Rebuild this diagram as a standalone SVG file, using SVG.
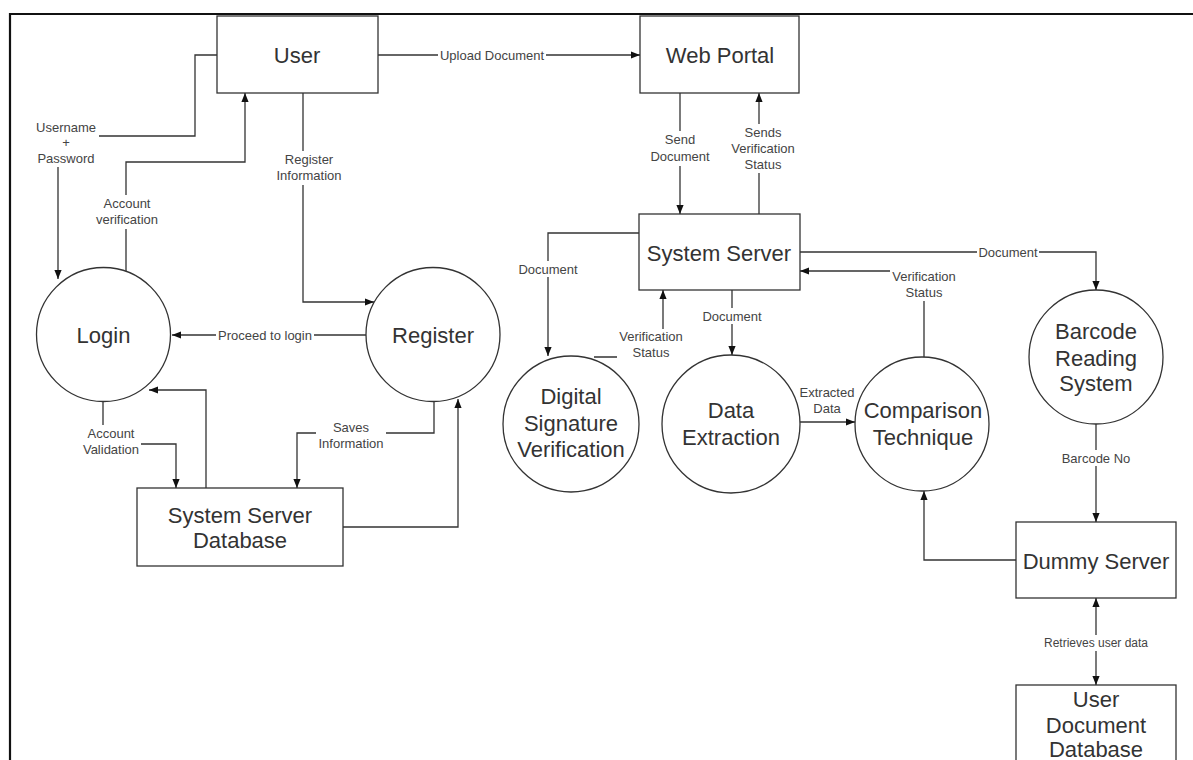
<svg xmlns="http://www.w3.org/2000/svg" width="1193" height="760" viewBox="0 0 1193 760">
<style>
.node{fill:#fff;stroke:#333;stroke-width:1.3}
.nt{font-family:"Liberation Sans",Arial,sans-serif;font-size:22px;fill:#333;text-anchor:middle}
.edge{fill:none;stroke:#333;stroke-width:1.3}
.lt{font-family:"Liberation Sans",Arial,sans-serif;font-size:13px;fill:#444;text-anchor:middle}
.lb{fill:#fff;stroke:none}
</style>
<defs>
<marker id="arr" viewBox="0 0 10 10" refX="10" refY="5" markerWidth="9" markerHeight="9" orient="auto-start-reverse" markerUnits="userSpaceOnUse">
<path d="M0,1 L10,5 L0,9 Z" fill="#111"/>
</marker>
</defs>
<rect width="1193" height="760" fill="#fff"/>
<path d="M10,760 V14 H1193" fill="none" stroke="#111" stroke-width="2.2"/>

<g id="user"><rect class="node" x="217" y="16" width="161" height="77"/><text class="nt" x="297" y="63">User</text></g>
<g id="webportal"><rect class="node" x="640" y="16" width="159" height="77"/><text class="nt" x="720" y="63">Web Portal</text></g>
<g id="login"><circle class="node" cx="103.5" cy="334.5" r="67"/><text class="nt" x="103.5" y="343">Login</text></g>
<g id="register"><circle class="node" cx="433" cy="334.5" r="67"/><text class="nt" x="433" y="343">Register</text></g>
<g id="ssdb"><rect class="node" x="137" y="488" width="206" height="78"/><text class="nt" x="240" y="523">System Server</text><text class="nt" x="240" y="548">Database</text></g>
<g id="systemserver"><rect class="node" x="639" y="214" width="161" height="76"/><text class="nt" x="719" y="261">System Server</text></g>
<g id="digsig"><circle class="node" cx="571" cy="424" r="68"/><text class="nt" x="571" y="404">Digital</text><text class="nt" x="571" y="431">Signature</text><text class="nt" x="571" y="457">Verification</text></g>
<g id="dataext"><circle class="node" cx="731" cy="424" r="69"/><text class="nt" x="731" y="418">Data</text><text class="nt" x="731" y="445">Extraction</text></g>
<g id="comparison"><circle class="node" cx="922" cy="424" r="67"/><text class="nt" x="923" y="418">Comparison</text><text class="nt" x="923" y="445">Technique</text></g>
<g id="barcode"><circle class="node" cx="1096" cy="357" r="67"/><text class="nt" x="1096" y="339">Barcode</text><text class="nt" x="1096" y="366">Reading</text><text class="nt" x="1096" y="391">System</text></g>
<g id="dummy"><rect class="node" x="1016" y="522" width="160" height="76"/><text class="nt" x="1096" y="569">Dummy Server</text></g>
<g id="userdocdb"><rect class="node" x="1016" y="685" width="160" height="90"/><text class="nt" x="1096" y="707">User</text><text class="nt" x="1096" y="733">Document</text><text class="nt" x="1096" y="757">Database</text></g>

<g id="connectors">
<g><path class="edge" d="M378,55 H640" marker-end="url(#arr)"/><rect class="lb" x="438" y="47" width="108" height="16"/><text class="lt" x="492" y="60">Upload Document</text></g>
<g><path class="edge" d="M217,55 H195 V136 H58 V279" marker-end="url(#arr)"/><rect class="lb" x="34" y="119" width="65" height="48"/><text class="lt" x="66" y="132">Username</text><text class="lt" x="66" y="147">+</text><text class="lt" x="66" y="163">Password</text></g>
<g><path class="edge" d="M126,271 V162 H245 V93" marker-end="url(#arr)"/><rect class="lb" x="94" y="195" width="66" height="34"/><text class="lt" x="127" y="208">Account</text><text class="lt" x="127" y="224">verification</text></g>
<g><path class="edge" d="M303,93 V302 H374" marker-end="url(#arr)"/><rect class="lb" x="275" y="151" width="68" height="34"/><text class="lt" x="309" y="164">Register</text><text class="lt" x="309" y="180">Information</text></g>
<g><path class="edge" d="M366,335 H172" marker-end="url(#arr)"/><rect class="lb" x="216" y="327" width="98" height="16"/><text class="lt" x="265" y="340">Proceed to login</text></g>
<g><path class="edge" d="M103,401 V444 H176 V488" marker-end="url(#arr)"/><rect class="lb" x="81" y="425" width="60" height="34"/><text class="lt" x="111" y="438">Account</text><text class="lt" x="111" y="454">Validation</text></g>
<g><path class="edge" d="M206,488 V390 H149" marker-end="url(#arr)"/></g>
<g><path class="edge" d="M434,401 V433 H297 V488" marker-end="url(#arr)"/><rect class="lb" x="316" y="419" width="70" height="34"/><text class="lt" x="351" y="432">Saves</text><text class="lt" x="351" y="448">Information</text></g>
<g><path class="edge" d="M343,527 H458 V399" marker-end="url(#arr)"/></g>
<g><path class="edge" d="M680,93 V214" marker-end="url(#arr)"/><rect class="lb" x="649" y="131" width="62" height="35"/><text class="lt" x="680" y="144">Send</text><text class="lt" x="680" y="161">Document</text></g>
<g><path class="edge" d="M759,214 V93" marker-end="url(#arr)"/><rect class="lb" x="729" y="124" width="68" height="49"/><text class="lt" x="763" y="137">Sends</text><text class="lt" x="763" y="153">Verification</text><text class="lt" x="763" y="169">Status</text></g>
<g><path class="edge" d="M639,233 H548 V356" marker-end="url(#arr)"/><rect class="lb" x="517" y="261" width="62" height="16"/><text class="lt" x="548" y="274">Document</text></g>
<g><path class="edge" d="M594,357 H663 V290" marker-end="url(#arr)"/><rect class="lb" x="617" y="329" width="68" height="32"/><text class="lt" x="651" y="341">Verification</text><text class="lt" x="651" y="357">Status</text></g>
<g><path class="edge" d="M732,290 V355" marker-end="url(#arr)"/><rect class="lb" x="701" y="308" width="62" height="16"/><text class="lt" x="732" y="321">Document</text></g>
<g><path class="edge" d="M800,422 H855" marker-end="url(#arr)"/><text class="lt" x="827" y="397">Extracted</text><text class="lt" x="827" y="413">Data</text></g>
<g><path class="edge" d="M924,357 V271 H800" marker-end="url(#arr)"/><rect class="lb" x="890" y="269" width="68" height="32"/><text class="lt" x="924" y="281">Verification</text><text class="lt" x="924" y="297">Status</text></g>
<g><path class="edge" d="M800,252 H1096 V290" marker-end="url(#arr)"/><rect class="lb" x="977" y="244" width="62" height="16"/><text class="lt" x="1008" y="257">Document</text></g>
<g><path class="edge" d="M1096,424 V522" marker-end="url(#arr)"/><rect class="lb" x="1060" y="450" width="72" height="16"/><text class="lt" x="1096" y="463">Barcode No</text></g>
<g><path class="edge" d="M1016,560 H924 V491" marker-end="url(#arr)"/></g>
<g><path class="edge" d="M1096,598 V685" marker-start="url(#arr)" marker-end="url(#arr)"/><rect class="lb" x="1043" y="635" width="106" height="16"/><text class="lt" x="1096" y="647" style="font-size:12px">Retrieves user data</text></g>
</g>
</svg>
